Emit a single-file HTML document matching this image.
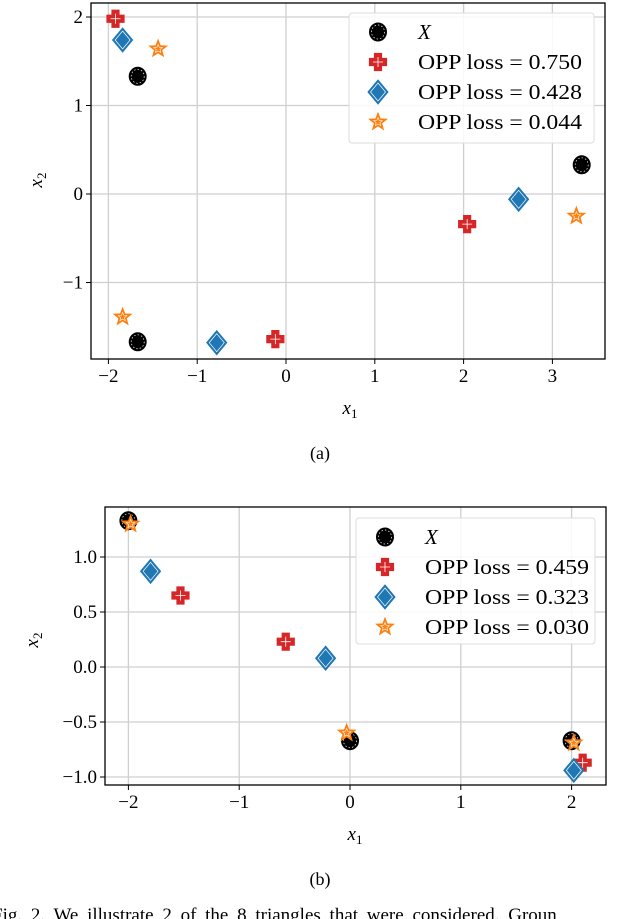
<!DOCTYPE html>
<html><head><meta charset="utf-8"><style>
html,body{margin:0;padding:0;background:#fff;}
svg{display:block;font-family:"Liberation Serif",serif;}
</style></head><body>
<svg id="fig" width="640" height="919" viewBox="0 0 640 919"></svg>
<script>
// Panel (a) data
const aX_x=[-1.67,-1.67,3.33], aX_y=[1.33,-1.67,0.33];
const aR_x=[-1.92,-0.12,2.04], aR_y=[1.98,-1.64,-0.34];
const aB_x=[-1.84,-0.78,2.62], aB_y=[1.74,-1.68,-0.06];
const aO_x=[-1.44,-1.84,3.27], aO_y=[1.64,-1.39,-0.25];
const aLegend=["0.750","0.428","0.044"];
const aXticks=[-2,-1,0,1,2,3], aYticks=[-1,0,1,2];
// Panel (b) data
const bX_x=[-2,0,2], bX_y=[1.33,-0.67,-0.67];
const bR_x=[-1.53,-0.58,2.1], bR_y=[0.65,0.23,-0.87];
const bB_x=[-1.8,-0.22,2.02], bB_y=[0.87,0.08,-0.94];
const bO_x=[-1.98,-0.03,2.02], bO_y=[1.30,-0.60,-0.69];
const bLegend=["0.459","0.323","0.030"];
const bXticks=[-2,-1,0,1,2], bYticks=[-1.0,-0.5,0.0,0.5,1.0];

const NS="http://www.w3.org/2000/svg";
const svg=document.getElementById('fig');
function mk(tag,attrs,parent,text){const e=document.createElementNS(NS,tag);for(const k in attrs)e.setAttribute(k,attrs[k]);if(text!==undefined)e.textContent=text;(parent||svg).appendChild(e);return e;}
function fmtTick(v,dec){let s=dec?v.toFixed(1):String(v);return s.replace('-','\u2212');}

function marker(g,type,cx,cy,name){
  let e;
  if(type==='X'){
    e=mk('g',{},g);
    mk('ellipse',{cx:cx,cy:cy,rx:8.5,ry:9,fill:'#000',stroke:'#000','stroke-width':1},e);
    mk('ellipse',{cx:cx,cy:cy,rx:6.5,ry:7,fill:'none',stroke:'#fff','stroke-width':0.7,'stroke-dasharray':'1.5,2'},e);
  }else if(type==='R'){
    const a=3.5,b=8.5;
    e=mk('path',{d:`M${cx-a},${cy-b}h${2*a}v${b-a}h${b-a}v${2*a}h${a-b}v${b-a}h${-2*a}v${a-b}h${a-b}v${-2*a}h${b-a}z`,fill:'#d62728',stroke:'#d62728','stroke-width':1.2},g);
    mk('path',{d:`M${cx},${cy-5}v10M${cx-5},${cy}h10`,stroke:'#fff','stroke-width':0.8},g);
  }else if(type==='B'){
    e=mk('path',{d:`M${cx},${cy-12}L${cx+10},${cy}L${cx},${cy+12}L${cx-10},${cy}z`,fill:'#1f77b4',stroke:'#1f77b4','stroke-width':1},g);
    mk('path',{d:`M${cx},${cy-9}L${cx+7.5},${cy}L${cx},${cy+9}L${cx-7.5},${cy}z`,fill:'none',stroke:'#fff','stroke-width':0.7},g);
  }else{
    let p=[];for(let i=0;i<10;i++){const r=i%2?3.8:9,an=-Math.PI/2+i*Math.PI/5;p.push((cx+r*Math.cos(an)).toFixed(1)+','+(cy+r*Math.sin(an)).toFixed(1));}
    e=mk('polygon',{points:p.join(' '),fill:'#ff7f0e',stroke:'#ff7f0e','stroke-width':1},g);
    let q=[];for(let i=0;i<10;i++){const r=i%2?2:4.5,an=-Math.PI/2+i*Math.PI/5;q.push((cx+r*Math.cos(an)).toFixed(1)+','+(cy+r*Math.sin(an)).toFixed(1));}
    mk('polygon',{points:q.join(' '),fill:'none',stroke:'#fff','stroke-width':0.6},g);
  }
  
  
}

function panel(cfg){
  const g=mk('g',{});
  
  
  const sx=v=>cfg.x0+v*cfg.kx, sy=v=>cfg.y0-v*cfg.ky;
  const L=cfg.box[0],T=cfg.box[1],R=cfg.box[2],B=cfg.box[3];
  cfg.xt.forEach(v=>{const x=sx(v);
    mk('line',{x1:x,y1:T,x2:x,y2:B,stroke:'#cfcfcf','stroke-width':1.3},g);
    mk('line',{x1:x,y1:B,x2:x,y2:B+5,stroke:'#000','stroke-width':1},g);
    const t=mk('text',{x:x,y:B+23,'text-anchor':'middle','font-size':19},g,fmtTick(v,false));
    
  });
  cfg.yt.forEach(v=>{const y=sy(v);
    mk('line',{x1:L,y1:y,x2:R,y2:y,stroke:'#cfcfcf','stroke-width':1.3},g);
    mk('line',{x1:L-5,y1:y,x2:L,y2:y,stroke:'#000','stroke-width':1},g);
    const t=mk('text',{x:L-8,y:y+6,'text-anchor':'end','font-size':19},g,fmtTick(v,cfg.dec));
    
  });
  const series=[['X',cfg.X],['R',cfg.R],['B',cfg.Bs],['O',cfg.O]];
  const names={X:'point-x',R:'point-red-cross',B:'point-blue-diamond',O:'point-orange-star'};
  series.forEach(([t,d])=>{for(let i=0;i<d[0].length;i++)marker(g,t,sx(d[0][i]),sy(d[1][i]),names[t]);});
  mk('rect',{x:L,y:T,width:R-L,height:B-T,fill:'none',stroke:'#000','stroke-width':1.3},g);
  const lg=mk('g',{},g);
  
  const lb=cfg.leg;
  mk('rect',{x:lb[0],y:lb[1],width:lb[2]-lb[0],height:lb[3]-lb[1],rx:3,fill:'#fff','fill-opacity':0.85,stroke:'#dcdcdc','stroke-width':1},lg);
  const types=['X','R','B','O'];
  types.forEach((t,i)=>{const y=lb[1]+19+i*30;
    marker(lg,t,lb[0]+29,y,'legend-marker');
    let tx;
    if(i==0){tx=mk('text',{x:lb[0]+69,y:y+7,'font-size':21,'font-style':'italic'},lg,'X');}
    else{tx=mk('text',{x:lb[0]+69,y:y+7,'font-size':21,textLength:164,lengthAdjust:'spacingAndGlyphs'},lg,'OPP loss = '+cfg.legTxt[i-1]);}
    
  });
  const xl=mk('text',{x:cfg.xl[0],y:cfg.xl[1],'text-anchor':'middle','font-size':19,'font-style':'italic'},g);
  xl.innerHTML='x<tspan font-size="13" dy="4" font-style="normal">1</tspan>';
  
  const yl=mk('text',{x:0,y:0,'text-anchor':'middle','font-size':19,'font-style':'italic',transform:`translate(${cfg.yl[0]},${cfg.yl[1]}) rotate(-90)`},g);
  yl.innerHTML='x<tspan font-size="13" dy="4" font-style="normal">2</tspan>';
  
  const cap=mk('text',{x:320,y:cfg.cap,'text-anchor':'middle','font-size':18},g,cfg.capTxt);
  
}

panel({name:'panel-a',x0:286,kx:88.8,y0:194,ky:88.5,box:[91,3,605,359],xt:aXticks,yt:aYticks,dec:false,
  X:[aX_x,aX_y],R:[aR_x,aR_y],Bs:[aB_x,aB_y],O:[aO_x,aO_y],leg:[349,13,594,143],legTxt:aLegend,
  xl:[350,414],yl:[42,180],cap:459,capTxt:'(a)'});
panel({name:'panel-b',x0:350,kx:110.8,y0:667,ky:110,box:[105,507,606,785],xt:bXticks,yt:bYticks,dec:true,
  X:[bX_x,bX_y],R:[bR_x,bR_y],Bs:[bB_x,bB_y],O:[bO_x,bO_y],leg:[356,518,595,644],legTxt:bLegend,
  xl:[355,840],yl:[38,640],cap:885,capTxt:'(b)'});
const ft=mk('text',{x:-8,y:921,'font-size':19,'word-spacing':'4'},svg,'Fig. 2.   We illustrate 2 of the 8 triangles that were considered. Groun');


</script>
</body></html>
